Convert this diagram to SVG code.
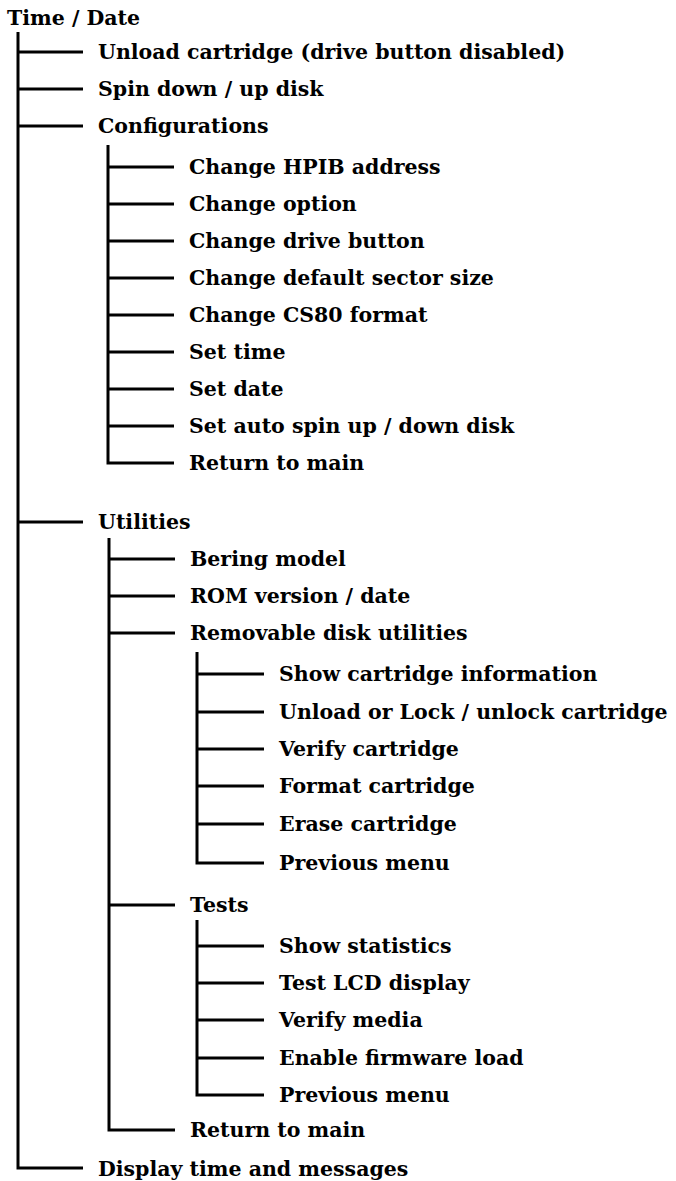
<svg xmlns="http://www.w3.org/2000/svg" width="676" height="1181" viewBox="0 0 676 1181">
<style>
text{font-family:"DejaVu Serif",serif;font-size:20.5px;font-weight:bold;fill:#000}
.c{fill:none;stroke:#000;stroke-width:3}
</style>
<rect width="676" height="1181" fill="#fff"/>
<g id="connectors">
<path class="c" d="M18,32V1168H83M18,52H83M18,89H83M18,126H83M18,522H83"/>
<path class="c" d="M108,145V463H174M108,167H174M108,204H174M108,241H174M108,278H174M108,315H174M108,352H174M108,389H174M108,426H174"/>
<path class="c" d="M109,538V1130H175M109,559H175M109,596H175M109,633H175M109,905H175"/>
<path class="c" d="M197,652V863H264M197,674H264M197,712H264M197,749H264M197,786H264M197,824H264"/>
<path class="c" d="M197,920V1095H264M197,946H264M197,983H264M197,1020H264M197,1058H264"/>
</g>
<g id="n0"><text x="7" y="25">Time / Date</text></g>
<g id="n1"><text x="98" y="59">Unload cartridge (drive button disabled)</text></g>
<g id="n2"><text x="98" y="96">Spin down / up disk</text></g>
<g id="n3"><text x="98" y="133">Configurations</text></g>
<g id="n3a"><text x="189" y="174">Change HPIB address</text></g>
<g id="n3b"><text x="189" y="211">Change option</text></g>
<g id="n3c"><text x="189" y="248">Change drive button</text></g>
<g id="n3d"><text x="189" y="285">Change default sector size</text></g>
<g id="n3e"><text x="189" y="322">Change CS80 format</text></g>
<g id="n3f"><text x="189" y="359">Set time</text></g>
<g id="n3g"><text x="189" y="396">Set date</text></g>
<g id="n3h"><text x="189" y="433">Set auto spin up / down disk</text></g>
<g id="n3i"><text x="189" y="470">Return to main</text></g>
<g id="n4"><text x="98" y="529">Utilities</text></g>
<g id="n4a"><text x="190" y="566">Bering model</text></g>
<g id="n4b"><text x="190" y="603">ROM version / date</text></g>
<g id="n4c"><text x="190" y="640">Removable disk utilities</text></g>
<g id="n4c1"><text x="279" y="681">Show cartridge information</text></g>
<g id="n4c2"><text x="279" y="719">Unload or Lock / unlock cartridge</text></g>
<g id="n4c3"><text x="279" y="756">Verify cartridge</text></g>
<g id="n4c4"><text x="279" y="793">Format cartridge</text></g>
<g id="n4c5"><text x="279" y="831">Erase cartridge</text></g>
<g id="n4c6"><text x="279" y="870">Previous menu</text></g>
<g id="n4d"><text x="190" y="912">Tests</text></g>
<g id="n4d1"><text x="279" y="953">Show statistics</text></g>
<g id="n4d2"><text x="279" y="990">Test LCD display</text></g>
<g id="n4d3"><text x="279" y="1027">Verify media</text></g>
<g id="n4d4"><text x="279" y="1065">Enable firmware load</text></g>
<g id="n4d5"><text x="279" y="1102">Previous menu</text></g>
<g id="n4e"><text x="190" y="1137">Return to main</text></g>
<g id="n5"><text x="98" y="1176">Display time and messages</text></g>
</svg>
